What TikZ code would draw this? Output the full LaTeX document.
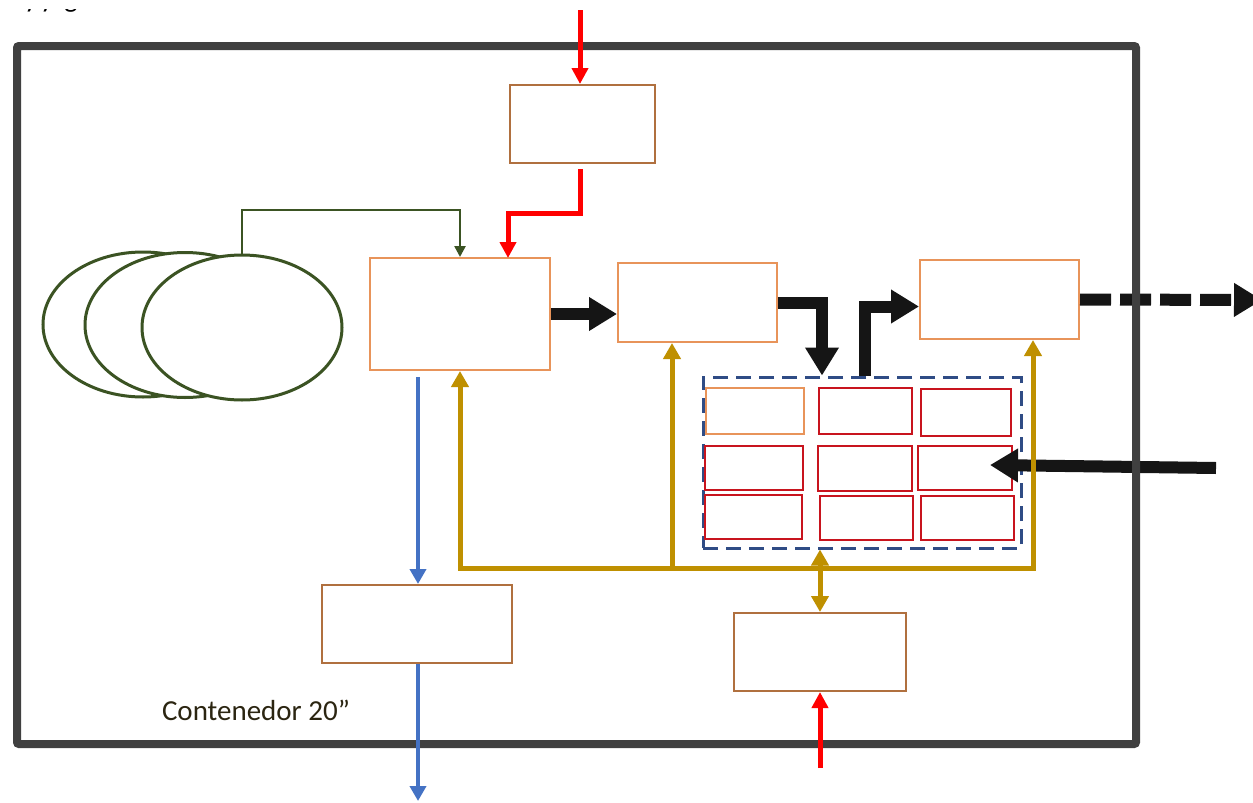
\documentclass[tikz,border=0pt]{standalone}
\usepackage{fontspec}
\newfontfamily\calfont{Carlito}
\usetikzlibrary{arrows.meta,shapes.geometric,calc}
\definecolor{framegray}{HTML}{404040}
\definecolor{boxorange}{HTML}{E8945A}
\definecolor{boxbrown}{HTML}{B0703F}
\definecolor{cellred}{HTML}{C8141E}
\definecolor{dashblue}{HTML}{2F4C85}
\definecolor{goldc}{HTML}{BF9000}
\definecolor{bluec}{HTML}{4472C4}
\definecolor{redc}{HTML}{FF0000}
\definecolor{greenc}{HTML}{3B5323}
\definecolor{blackc}{HTML}{151515}
\definecolor{textc}{HTML}{2B2511}
\begin{document}
\begin{tikzpicture}[x=1pt,y=-1pt,
  box/.style={draw=boxorange, line width=2pt, fill=white, inner sep=0pt, rectangle},
  bbox/.style={box, draw=boxbrown},
  cell/.style={draw=cellred, line width=2pt, fill=white, inner sep=0pt, rectangle},
  ell/.style={ellipse, draw=greenc, line width=3pt, fill=white, inner sep=0pt, minimum width=200pt, minimum height=145pt},
  blk/.style={draw=blackc, line width=12pt, -{Triangle[width=32pt,length=28pt]}},
  blkd/.style={blk, dash pattern=on 31pt off 9pt},
  goldl/.style={draw=goldc, line width=5pt},
  golda/.style={goldl, -{Triangle[width=17pt,length=16pt]}},
  bluea/.style={draw=bluec, line width=4.5pt, -{Triangle[width=16pt,length=15pt]}},
  reda/.style={draw=redc, line width=5pt, -{Triangle[width=16pt,length=16pt]}},
  greena/.style={draw=greenc, line width=2.5pt, -{Triangle[width=11pt,length=11pt]}},
  frag/.style={font=\calfont\fontsize{28}{28}\selectfont, anchor=base, inner sep=0pt, text=black}
]
\useasboundingbox (0,0) rectangle (1253,803);
\fill[white] (0,0) rectangle (1253,803);

% fragment of text cut off at the top
\begin{scope}
\clip (0,9) rectangle (120,20);
\node[frag] (fy1) at (31,8) {y};
\node[frag] (fy2) at (47,8) {y};
\node[frag] (fg) at (71,8) {g};
\end{scope}

% ellipses
\node[ell] (e1) at (143,324.5) {};
\node[ell] (e2) at (185,325) {};
\node[ell] (e3) at (242,327.5) {};

% boxes
\node[bbox, minimum width=145pt, minimum height=78pt] (A) at (582.5,124) {};
\node[box, minimum width=180pt, minimum height=112pt] (B) at (460,314) {};
\node[box, minimum width=159pt, minimum height=79pt] (C) at (697.5,302.5) {};
\node[box, minimum width=159pt, minimum height=79pt] (D) at (999.5,299.5) {};
\node[bbox, minimum width=172pt, minimum height=78pt] (E) at (820,652) {};
\node[bbox, minimum width=190pt, minimum height=78pt] (F) at (417,624) {};

% dashed group
\node[draw=dashblue, line width=3pt, dash pattern=on 15pt off 8pt, minimum width=318pt, minimum height=171pt, inner sep=0pt] (dash) at (862,462.5) {};

% cells
\node[cell, draw=boxorange, minimum width=98pt, minimum height=46pt] (c11) at (755,411) {};
\node[cell, minimum width=93pt, minimum height=46pt] (c12) at (865.5,411) {};
\node[cell, minimum width=90pt, minimum height=47pt] (c13) at (966,412.5) {};
\node[cell, minimum width=98pt, minimum height=44pt] (c21) at (754,468) {};
\node[cell, minimum width=94pt, minimum height=45pt] (c22) at (865,468.5) {};
\node[cell, minimum width=94pt, minimum height=44pt] (c23) at (965,468) {};
\node[cell, minimum width=97pt, minimum height=44pt] (c31) at (753.5,517) {};
\node[cell, minimum width=93pt, minimum height=44pt] (c32) at (866.5,518) {};
\node[cell, minimum width=93pt, minimum height=44pt] (c33) at (967.5,518) {};

% free ends
\coordinate (redtop) at (580,10);
\coordinate (redbot) at (820,768);
\coordinate (bluetop) at (418,377);
\coordinate (bluebot) at (418,801);
\coordinate (dout) at (1262,300);
\coordinate (lin) at (1216,468);
\coordinate (ltip) at (990,465);
\coordinate (gn) at (242,210);
\coordinate (g1) at (460,568);
\coordinate (g2) at (1033,568);
\coordinate (g3) at (672,568);

% black arrows
\draw[blk] (B.east) -- (B.east -| C.west);
\draw[blk] (C.east) -| ([xshift=-40pt]dash.north);
\draw[blk] ([xshift=3pt]dash.north) |- ([yshift=-7pt]D.west);
\draw[blkd] (D.east) -- (dout);
\draw[blk] (lin) -- (ltip);

% container
\draw[framegray, line width=8pt, rounded corners=2pt] (17,46) rectangle (1136,744);
\node[font=\calfont\fontsize{29}{29}\selectfont, text=textc, inner sep=0pt] (lbl) at (256,710) {Contenedor 20”};

% green connector
\draw[greena] (e3.north) -- (gn) -| (B.north);

% red arrows
\draw[reda] (redtop) -- (redtop |- A.north);
\draw[reda] ([xshift=-2.5pt,yshift=-5pt]A.south) |- (508,213) -- (508,258);
\draw[reda] (redbot) -- (E.south);

% blue arrows
\draw[bluea] (bluetop) -- (bluetop |- F.north);
\draw[bluea] (bluebot |- F.south) -- (bluebot);

% gold connectors
\draw[goldl, {Triangle[width=17pt,length=16pt]}-{Triangle[width=17pt,length=16pt]}] (B.south) -- (g1) -- (g2) -- (g2 |- D.south);
\draw[golda] (g3) -- (g3 |- C.south);
\draw[goldl, {Triangle[width=17pt,length=16pt]}-{Triangle[width=17pt,length=16pt]}] ([xshift=-42pt]dash.south) -- (E.north);
\end{tikzpicture}
\end{document}
